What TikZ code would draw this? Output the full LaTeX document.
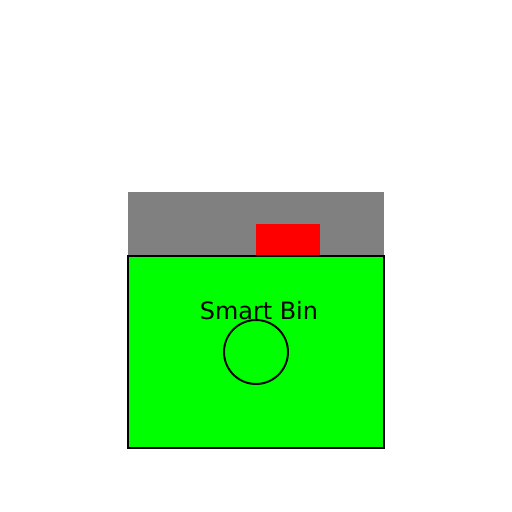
\documentclass[tikz,border=0pt]{standalone}
\usepackage{fontspec}
\setmainfont{DejaVu Sans}

\begin{document}
\begin{tikzpicture}[x=0.02cm, y=-0.02cm,
    lid/.style={fill=gray, draw=none},
    sensor/.style={fill=red, draw=none},
    body/.style={fill=green, draw=black, line width=1.1pt},
    hole/.style={draw=black, line width=1.1pt}]
    \useasboundingbox (0, 0) rectangle (512, 512);

    \fill[lid] (128, 192) rectangle (384, 256);
    \fill[sensor] (256, 224) rectangle (320, 256);
    \draw[body] (128, 256) rectangle (384, 448);

    \node at (259, 319) [anchor=base, inner sep=0pt, font=\fontsize{13.6}{16}\selectfont] (title) {Smart Bin};
    \draw[hole] (256, 352) circle [radius=0.64cm];
\end{tikzpicture}
\end{document}
